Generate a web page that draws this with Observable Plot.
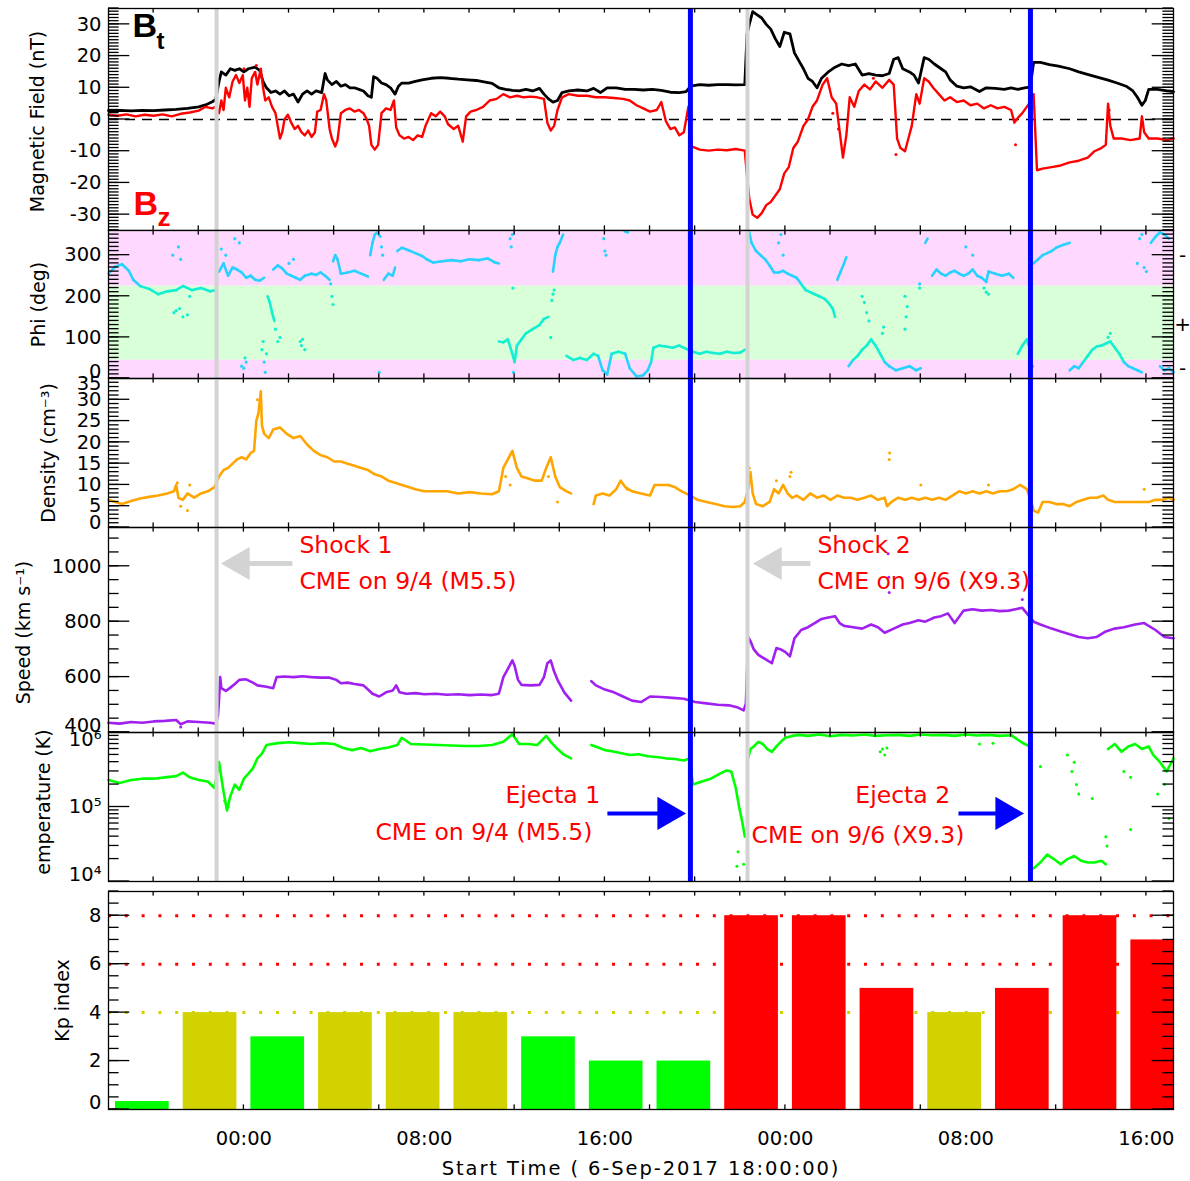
<!DOCTYPE html>
<html><head><meta charset="utf-8">
<script src="https://cdn.jsdelivr.net/npm/d3@7"></script>
<script src="https://cdn.jsdelivr.net/npm/@observablehq/plot@0.6"></script>
<style>
body{margin:0;background:#fff;}
#chart{position:relative;width:1190px;height:1181px;background:#fff;}
#chart svg{position:absolute;left:0;top:0;}
</style></head><body><div id="chart"></div>
<script>
// ---------- time base ----------
const START = Date.UTC(2017, 8, 6, 18, 0, 0);   // 6-Sep-2017 18:00:00 UT
const HOUR = 3600000;
const T = h => new Date(START + h * HOUR);
const X_END_H = 47.2;

// ---------- events (hours after start) ----------
const shockHours = [4.79, 28.32];
const ejectaHours = [25.79, 40.86];

// ---------- tick values & labels ----------
const magTicks = [-30, -20, -10, 0, 10, 20, 30];
const phiTicks = [0, 100, 200, 300];
const denTicks = [0, 5, 10, 15, 20, 25, 30, 35];
const spdTicks = [400, 600, 800, 1000];
const tmpTicks = [1e4, 1e5, 1e6];
const tmpTickLabels = ["10⁴", "10⁵", "10⁶"];
const kpTicks = [0, 2, 4, 6, 8];
const timeTickHours = [6, 14, 22, 30, 38, 46];
const timeTickLabels = ["00:00", "08:00", "16:00", "00:00", "08:00", "16:00"];
const phiSideLabels = [{v: 300, s: "-"}, {v: 130, s: "+"}, {v: 25, s: "-"}];
const phiBands = [{lo: 0, hi: 45, c: "#ffd8ff"}, {lo: 45, hi: 225, c: "#d8ffd8"}, {lo: 225, hi: 360, c: "#ffd8ff"}];

// ---------- Kp ----------
const kpValues = [0.33, 4, 3, 4, 4, 4, 3, 2, 2, 8, 8, 5, 4, 5, 8, 7];
const kpLevels = [4, 6, 8];

// ---------- series: [hour, value], null = gap ----------
const bt = [[0,2.8],[0.5,2.9],[1,2.7],[1.5,2.9],[2,2.8],[2.5,3],[3,3.2],[3.5,3.5],[4,4],[4.3,4.6],[4.6,5.6],[4.75,6.3],
[4.9,12],[5.0,15],[5.2,14],[5.4,16],[5.6,15.5],[5.8,16],[6.0,15],[6.2,16],[6.5,16.5],[6.7,15.5],[6.85,12],[7.0,10],[7.2,8.5],[7.4,9],[7.6,8],[7.8,9],[8.0,7.5],[8.2,8],[8.4,5.5],[8.6,8],[8.8,9],[9.0,8],[9.2,9],[9.45,8.5],[9.6,14.5],[9.7,12.5],[9.9,11],[10.1,12],[10.3,10.5],[10.5,11],[10.7,10],[10.9,10],[11.1,9.5],[11.3,9],[11.5,7.5],[11.65,7],[11.75,13.5],[11.9,13],[12.1,11.5],[12.3,11],[12.5,10],[12.7,8],[12.85,10.5],[13.0,11.5],[13.3,11.5],[13.6,12],[13.9,12.5],[14.3,13],[14.7,13.2],[15.1,13],[15.5,12.7],[15.9,12.5],[16.3,12.3],[16.7,11.8],[17.0,11.4],[17.3,10],[17.6,9.5],[17.9,9.2],[18.2,9],[18.5,9.5],[18.8,9],[19.1,9.8],[19.3,8],[19.5,6.5],[19.7,5.5],[19.9,6],[20.1,8.5],[20.4,9],[20.8,9.3],[21.2,9],[21.5,9.8],[21.8,8.5],[22.1,10],[22.5,10],[22.9,9.5],[23.3,9.5],[23.7,9.3],[24.1,9.5],[24.5,9.2],[24.9,8.6],[25.3,8.5],[25.6,8.8],[25.8,10.5],[26.2,11],[26.6,10.8],[27.0,11],[27.4,11],[27.8,10.9],[28.2,11],
[28.3,27],[28.4,30],[28.55,34],[28.75,33],[28.95,32],[29.15,30],[29.35,28.5],[29.55,25.5],[29.75,23],[29.95,27.5],[30.2,27],[30.4,21],[30.6,18.5],[30.8,16],[31.0,13],[31.2,12],[31.4,10],[31.6,13],[31.9,15],[32.2,16.5],[32.5,17.5],[32.8,17],[33.1,17.5],[33.4,14],[33.7,14.5],[34.0,14],[34.3,13.8],[34.6,14.5],[34.8,19],[35.0,19.5],[35.2,16],[35.5,15],[35.7,14],[35.9,11.5],[36.15,19.5],[36.35,19],[36.6,17.5],[36.9,16],[37.1,15],[37.3,12.5],[37.6,10.5],[37.9,10],[38.2,10.3],[38.6,8.8],[38.9,10],[39.3,9.8],[39.7,9.5],[40.0,10],[40.3,9.5],[40.6,10],[40.85,10.2],
[41.0,18],[41.3,18],[41.7,17.3],[42.1,16.8],[42.6,16],[43.0,15],[43.5,14],[43.9,13.2],[44.3,12.4],[44.7,11.5],[45.1,10.5],[45.4,9],[45.6,7],[45.8,4.5],[45.95,6],[46.1,9.5],[46.5,9.5],[46.9,9],[47.2,8.8]];

const bz = [[0,1.5],[0.4,1.2],[0.8,1.6],[1.2,1.0],[1.6,1.5],[2.0,1.2],[2.4,1.6],[2.8,1.0],[3.2,1.8],[3.6,2.2],[4.0,2.8],[4.3,4],[4.6,3.5],[4.75,4],
[4.9,2],[5.0,6],[5.1,3],[5.2,10],[5.35,7],[5.5,12],[5.65,14],[5.8,11.5],[5.95,14],[6.05,6],[6.15,10],[6.25,4],[6.35,13],[6.5,15],[6.6,11],[6.75,16],[6.85,10],[6.95,6],[7.1,7],[7.25,4],[7.4,2],[7.5,-2],[7.6,-6],[7.7,-4],[7.8,0],[7.95,1.5],[8.1,-1],[8.25,-3],[8.4,-2],[8.55,-4],[8.7,-5],[8.85,-3.5],[9.0,-5.5],[9.15,-4],[9.25,2.5],[9.4,3],[9.55,8],[9.65,6],[9.8,-3],[9.9,-6],[10.05,-8.5],[10.15,-6.5],[10.3,2],[10.5,3],[10.7,3.5],[10.9,2.5],[11.1,3],[11.3,2],[11.45,0],[11.55,-2],[11.65,-8],[11.8,-9.5],[11.95,-8],[12.1,2],[12.3,3.5],[12.5,3],[12.65,6],[12.75,-2.5],[12.9,-5],[13.1,-6],[13.3,-5.5],[13.5,-6.5],[13.7,-5],[13.9,-5.5],[14.05,-2],[14.3,2],[14.5,1],[14.7,2.5],[14.9,1],[15.05,-1.5],[15.3,-3],[15.5,-2],[15.7,-7],[15.85,1],[16.05,2.5],[16.3,3],[16.6,4],[16.9,6],[17.2,6.5],[17.5,8],[17.8,7],[18.1,7.5],[18.4,7],[18.7,7.2],[19.0,7],[19.3,6.5],[19.45,-1],[19.6,-3.5],[19.75,-2],[19.9,3],[20.1,7],[20.4,8],[20.8,7.5],[21.2,7.5],[21.6,7],[22.0,7],[22.4,6.8],[22.8,6.5],[23.1,6],[23.4,4.5],[23.7,3.5],[24.0,2.5],[24.3,3],[24.5,5.5],[24.7,-0.5],[24.9,-3],[25.1,-2.5],[25.3,-5],[25.5,-4],[25.7,4],[25.85,-8.5],[26.2,-9.5],[26.6,-9.8],[27.0,-9.5],[27.4,-9.7],[27.8,-9.3],[28.2,-9.8],
[28.3,-18],[28.4,-25],[28.55,-30],[28.75,-31],[28.95,-29.5],[29.15,-27],[29.35,-26],[29.55,-24],[29.75,-22],[29.95,-17],[30.15,-15],[30.35,-9],[30.55,-7],[30.8,-2],[31.0,0],[31.2,4],[31.4,6],[31.65,11],[31.85,13],[32.05,7],[32.25,5],[32.55,-12],[32.7,-5],[32.85,7],[33.05,4],[33.25,9],[33.5,11],[33.75,9.5],[34.0,12],[34.3,10],[34.6,12.5],[34.8,11],[34.95,-6],[35.1,-9],[35.3,-10],[35.45,-6],[35.6,-2],[35.8,8],[35.95,5],[36.15,13],[36.35,12],[36.55,10],[36.8,8],[37.05,6],[37.3,7],[37.6,5.5],[37.9,6],[38.2,4.5],[38.5,5],[38.8,3.5],[39.1,4.5],[39.4,3.5],[39.7,4],[40.0,3],[40.15,-1],[40.3,0.5],[40.5,2],[40.8,5],
[41.0,8],[41.15,-16],[41.4,-15.5],[41.8,-15],[42.2,-14.5],[42.6,-13.5],[43.0,-13],[43.4,-12],[43.7,-10],[44.0,-9],[44.2,-8],[44.3,5],[44.4,-2],[44.55,-6],[44.9,-6],[45.3,-6.5],[45.7,-6],[45.8,1],[45.9,-4],[46.1,-6],[46.5,-6],[46.9,-6.5],[47.2,-6]];
const bzScatter = [[6.0,16],[6.55,17],[6.2,8],[32.35,-3],[32.1,2],[33.9,13],[34.9,-11],[40.2,-8],[44.35,3]];

const phi = [[0,255],[0.3,272],[0.6,278],[0.9,262],[1.1,240],[1.4,225],[1.8,218],[2.2,205],[2.6,212],[3.0,215],[3.3,225],[3.7,215],[4.1,220],[4.5,212],[4.75,215], null,
[4.9,260],[5.1,280],[5.3,250],[5.5,270],[5.7,265],[5.9,258],[6.1,245],[6.3,250],[6.5,240],[6.7,238],[6.9,245], null,
[7.05,200],[7.15,185],[7.25,160],[7.35,140], null,
[7.3,265],[7.5,275],[7.7,268],[7.9,255],[8.1,250],[8.3,245],[8.5,240],[8.7,250],[9.0,255],[9.2,252],[9.4,258],[9.6,250],[9.8,240], null,
[9.95,285],[10.05,300],[10.15,290],[10.3,255],[10.6,258],[10.9,262],[11.2,255],[11.5,248], null,
[11.6,300],[11.7,330],[11.8,350],[11.9,355],[12.05,345], null,
[12.2,240],[12.4,255],[12.6,250],[12.7,270], null,
[12.8,310],[13.0,318],[13.3,312],[13.6,305],[13.9,298],[14.1,290],[14.4,282],[14.8,285],[15.2,288],[15.6,285],[16.0,290],[16.4,288],[16.8,292],[17.1,283],[17.3,280], null,
[17.3,90],[17.5,88],[17.7,95],[17.9,60],[18.0,40],[18.1,80],[18.3,95],[18.5,110],[18.8,120],[19.1,130],[19.3,145],[19.5,150], null,
[19.7,260],[19.8,300],[19.9,320],[20.0,330],[20.15,350], null,
[20.3,55],[20.6,45],[20.9,50],[21.2,45],[21.5,60],[21.7,55],[21.9,20],[22.1,10],[22.3,60],[22.6,65],[22.9,60],[23.1,25],[23.4,5],[23.7,8],[23.9,20],[24.05,40],[24.15,75],[24.4,80],[24.7,78],[25.0,75],[25.3,80],[25.6,72],[25.9,65],[26.2,60],[26.5,65],[26.8,62],[27.1,60],[27.4,65],[27.7,62],[28.0,63],[28.2,70], null,
[28.3,345],[28.4,355],[28.5,330],[28.7,310],[28.9,300],[29.1,290],[29.3,275],[29.5,258],[29.7,258],[29.9,262],[30.1,255],[30.3,250],[30.5,245],[30.7,230],[30.9,215],[31.1,210],[31.3,205],[31.5,200],[31.7,195],[31.9,185],[32.1,170],[32.2,150], null,
[32.3,240],[32.45,260],[32.6,280],[32.7,295], null,
[32.8,30],[33.0,45],[33.2,55],[33.4,70],[33.6,80],[33.8,95],[34.0,80],[34.2,60],[34.4,40],[34.6,30],[34.9,20],[35.2,25],[35.5,30],[35.8,20],[36.0,25], null,
[36.2,330],[36.3,340], null,
[36.5,250],[36.7,265],[36.9,255],[37.1,250],[37.3,258],[37.5,262],[37.7,255],[37.9,250],[38.1,255],[38.3,265],[38.5,250],[38.7,245],[38.9,235],[39.0,260],[39.3,255],[39.6,250],[39.9,255],[40.1,245], null,
[40.3,60],[40.5,80],[40.7,95],[40.85,70], null,
[41.0,280],[41.2,290],[41.4,300],[41.6,305],[41.8,310],[42.0,318],[42.3,325],[42.6,330], null,
[42.6,20],[42.8,30],[43.0,25],[43.2,40],[43.4,55],[43.6,70],[43.8,78],[44.0,80],[44.2,85],[44.4,90],[44.6,75],[44.8,60],[45.0,40],[45.2,30],[45.4,25],[45.6,20],[45.8,15], null,
[46.2,330],[46.4,345],[46.6,355],[46.8,350],[47.0,340], null,
[46.6,30],[46.8,20],[47.0,25],[47.2,15]];
const phiScatter = [[2.85,300],[2.9,160],[3.0,165],[3.1,320],[3.15,170],[3.2,290],[3.3,150],[3.5,155],[3.6,200],[5.0,315],[5.2,300],[5.6,340],[5.8,330],[5.9,30],[6.0,25],[6.05,50],[6.1,40],[6.8,70],[6.85,90],[6.9,40],[6.95,15],[7.0,60],[7.4,120],[7.5,90],[7.6,100],[8.0,280],[8.2,290],[8.5,90],[8.55,80],[8.6,95],[8.7,70],[9.85,230],[9.9,200],[9.95,180],[12.0,15],[12.1,320],[12.15,300],[17.8,340],[17.85,320],[17.9,350],[17.92,220],[17.95,15],[19.6,100],[19.65,190],[19.7,205],[19.75,215],[21.95,340],[22.0,310],[22.05,300],[22.9,358],[23.0,356],[29.7,330],[29.8,350],[29.9,300],[33.4,200],[33.5,185],[33.6,160],[33.7,140],[34.3,110],[34.35,125],[35.3,120],[35.35,150],[35.4,175],[35.3,200],[35.95,220],[35.95,230],[38.0,320],[38.3,300],[38.8,220],[38.9,210],[39.0,205],[40.9,20],[40.95,30],[44.3,100],[44.4,110],[45.6,280],[45.7,340],[45.8,350],[45.9,270],[46.0,260]];

const den = [[0,6.5],[0.3,6],[0.6,5.5],[1.0,6.2],[1.4,6.8],[1.8,7.2],[2.2,7.5],[2.6,8],[2.9,8.5],[3.0,10],[3.1,7],[3.3,6.5],[3.5,8],[3.8,7],[4.1,8],[4.4,8.5],[4.7,9.5],[4.9,12],[5.1,13.5],[5.3,14],[5.5,15],[5.7,16],[5.9,16.5],[6.1,16],[6.3,17.5],[6.45,18],[6.55,25],[6.65,27],[6.75,32],[6.8,24],[6.9,22],[7.1,21],[7.3,23],[7.6,23.5],[7.9,22],[8.2,21],[8.5,21.5],[8.8,19.5],[9.1,18],[9.4,17],[9.7,16.5],[10.0,15.5],[10.3,15.5],[10.6,15],[10.9,14.5],[11.2,14],[11.5,13.5],[11.8,12.5],[12.1,12],[12.4,11],[12.7,10.5],[13.0,10],[13.3,9.5],[13.6,9],[14.0,8.5],[14.5,8.5],[15.0,8.5],[15.5,8],[16.0,8.3],[16.5,8],[17.0,7.8],[17.3,8.5],[17.5,14],[17.7,16],[17.9,18],[18.1,14],[18.3,12],[18.6,11.5],[18.9,11],[19.2,11],[19.4,14],[19.6,16.5],[19.8,12],[20.0,9.5],[20.3,8.5],[20.5,8], null,
[21.5,5.5],[21.6,7.5],[21.9,8],[22.2,7.5],[22.5,9],[22.7,11],[22.9,9.5],[23.2,8.5],[23.6,8],[24.0,7.5],[24.2,10],[24.5,10],[24.8,10],[25.1,9.5],[25.4,8.5],[25.8,7.5],[26.1,6.5],[26.5,6],[26.9,5.5],[27.3,5],[27.7,4.8],[28.0,5],[28.2,6],[28.35,9],[28.45,13],[28.55,8],[28.7,5.5],[29.0,5],[29.3,6],[29.5,9],[29.7,8],[29.9,10],[30.1,8],[30.3,7],[30.5,7.5],[30.8,6.5],[31.1,8],[31.4,7],[31.7,7.5],[32.0,6.5],[32.3,7.5],[32.6,7],[32.9,7],[33.2,6.5],[33.5,7],[33.8,7.5],[34.1,6.5],[34.4,7],[34.5,5],[34.7,6],[35.0,7],[35.3,6.5],[35.6,7],[35.9,6.5],[36.2,7],[36.5,6.5],[36.8,7],[37.1,6.5],[37.4,7.5],[37.7,8.5],[38.0,8],[38.3,8.5],[38.6,8],[38.9,8.5],[39.2,8],[39.5,8.5],[39.8,8.5],[40.1,9],[40.4,10],[40.7,9],[40.9,6],[41.0,4],[41.2,3.5],[41.4,6],[41.7,6],[42.0,5.5],[42.3,5.5],[42.6,5],[42.9,6],[43.2,6.5],[43.5,7],[43.8,7],[44.1,7.5],[44.3,6.5],[44.6,6],[44.9,6],[45.2,6],[45.5,6],[45.8,6],[46.1,6],[46.4,6.5],[46.7,6.5],[47.0,7],[47.2,6.5]];
const denScatter = [[3.05,10.5],[3.2,5],[3.5,4],[3.6,10],[6.6,30],[6.7,28],[17.6,12],[17.8,10],[19.5,12],[19.9,6],[23.0,9],[28.4,14],[29.6,11],[30.2,12],[30.25,13],[34.6,16],[34.62,17.5],[36.0,10],[39.0,10],[45.9,9]];

const spd = [[0,435],[0.5,432],[1.0,438],[1.5,435],[2.0,440],[2.5,442],[3.0,445],[3.2,430],[3.5,440],[4.0,438],[4.5,435],[4.75,432],[4.85,460],[4.9,520],[4.95,600],[5.0,560],[5.2,550],[5.4,562],[5.6,575],[5.8,590],[6.1,592],[6.4,580],[6.6,570],[7.0,565],[7.3,560],[7.45,600],[7.8,602],[8.2,600],[8.6,603],[9.0,600],[9.4,598],[9.8,598],[10.1,590],[10.3,578],[10.6,580],[10.9,575],[11.3,570],[11.5,555],[11.7,540],[12.0,530],[12.3,545],[12.6,552],[12.75,570],[12.9,545],[13.2,540],[13.6,542],[14.0,538],[14.5,540],[15.0,536],[15.5,538],[16.0,535],[16.5,537],[17.0,535],[17.3,540],[17.5,600],[17.7,630],[17.9,660],[18.0,640],[18.15,590],[18.3,572],[18.7,570],[19.1,572],[19.3,600],[19.45,650],[19.6,660],[19.75,620],[19.9,590],[20.2,545],[20.5,515], null,
[21.4,585],[21.6,570],[22.0,555],[22.4,545],[22.8,530],[23.2,515],[23.6,510],[24.0,530],[24.5,528],[25.0,525],[25.5,522],[26.0,510],[26.5,505],[27.0,500],[27.5,498],[27.9,490],[28.15,480],[28.25,505],
[28.35,745],[28.45,730],[28.6,700],[28.8,680],[29.0,670],[29.2,660],[29.4,650],[29.6,705],[29.8,700],[30.0,690],[30.2,675],[30.4,740],[30.7,770],[31.0,780],[31.3,795],[31.6,810],[31.9,815],[32.2,820],[32.4,795],[32.6,785],[33.0,780],[33.4,775],[33.8,790],[34.1,780],[34.4,760],[34.8,775],[35.2,790],[35.5,795],[35.9,805],[36.2,800],[36.6,815],[36.9,820],[37.2,830],[37.5,795],[37.9,840],[38.3,845],[38.7,840],[39.1,842],[39.5,838],[39.9,840],[40.2,845],[40.5,850],[40.8,820],[41.0,800],[41.3,790],[41.8,775],[42.2,765],[42.6,755],[43.0,745],[43.4,740],[43.8,745],[44.2,765],[44.6,775],[45.0,780],[45.5,790],[45.9,795],[46.4,770],[46.8,745],[47.2,740]];
const spdScatter = [[3.2,420],[34.55,1045],[34.58,960],[34.6,905],[40.5,880]];

const tmp = [[0,2.3e5],[0.5,2.1e5],[1.0,2.3e5],[1.5,2.4e5],[2.0,2.4e5],[2.5,2.5e5],[3.0,2.6e5],[3.3,2.9e5],[3.6,2.5e5],[4.0,2.3e5],[4.4,2.2e5],[4.7,1.8e5],[4.9,4e5],[5.0,2.5e5],[5.1,1.6e5],[5.25,9e4],[5.4,1.4e5],[5.6,2e5],[5.8,1.7e5],[6.0,2.4e5],[6.2,2.8e5],[6.4,3.3e5],[6.6,4.5e5],[6.8,5.2e5],[7.0,6.8e5],[7.5,7.2e5],[8.0,7.4e5],[8.5,7.2e5],[9.0,7e5],[9.5,7.2e5],[10.0,7e5],[10.4,6.2e5],[10.8,5.8e5],[11.2,6.2e5],[11.6,5.6e5],[12.0,6e5],[12.4,6.3e5],[12.8,6.8e5],[13.0,8.5e5],[13.4,7e5],[14.0,6.9e5],[14.6,6.8e5],[15.2,6.7e5],[15.8,6.6e5],[16.4,6.6e5],[17.0,6.8e5],[17.5,7.5e5],[17.9,9.5e5],[18.2,7e5],[18.6,7e5],[19.0,6.8e5],[19.4,9e5],[19.6,7.5e5],[19.9,6e5],[20.2,5e5],[20.5,4.5e5], null,
[21.4,6.8e5],[21.7,6.3e5],[22.0,5.8e5],[22.3,5.6e5],[22.7,5.3e5],[23.1,5.0e5],[23.5,5.1e5],[23.9,4.8e5],[24.3,4.7e5],[24.7,4.5e5],[25.1,4.4e5],[25.5,4.2e5],[25.75,4.5e5],[25.9,2.0e5],[26.3,2.2e5],[26.7,2.4e5],[27.1,2.8e5],[27.4,3.1e5],[27.6,3.0e5],[27.8,1.8e5],[27.95,1.0e5],[28.1,6e4],[28.2,4e4], null,
[28.35,4.5e5],[28.45,6e5],[28.6,6.5e5],[28.8,7.5e5],[29.0,7e5],[29.2,6e5],[29.4,5.5e5],[29.6,6.5e5],[29.8,7.5e5],[30.0,8.5e5],[30.3,9e5],[30.6,9.3e5],[31.0,9e5],[31.5,9.4e5],[32.0,8.9e5],[32.5,9.3e5],[33.0,9.1e5],[33.5,9.4e5],[34.0,9e5],[34.5,9.2e5],[35.0,9.3e5],[35.5,9e5],[36.0,9.4e5],[36.5,9.2e5],[37.0,9.3e5],[37.5,9e5],[38.0,9.4e5],[38.5,9.1e5],[39.0,9.3e5],[39.5,9e5],[40.0,9.2e5],[40.3,8e5],[40.6,7e5],[40.85,6.5e5], null,
[41.0,1.5e4],[41.3,1.8e4],[41.6,2.3e4],[41.9,2e4],[42.2,1.7e4],[42.5,2e4],[42.8,2.2e4],[43.1,1.9e4],[43.4,1.8e4],[43.7,1.8e4],[44.0,1.9e4],[44.2,1.7e4], null,
[44.3,6e5],[44.6,7e5],[44.9,5.5e5],[45.2,6.5e5],[45.5,7e5],[45.8,6e5],[46.1,6.5e5],[46.3,5e5],[46.6,4e5],[46.9,3e5],[47.2,4.5e5]];
const tmpScatter = [[5.15,1.2e5],[5.3,1e5],[27.85,1.6e4],[27.9,2.5e4],[28.15,1.7e4],[34.2,5.5e5],[34.3,6e5],[34.4,5e5],[34.5,6.2e5],[38.6,7e5],[39.2,7.2e5],[41.3,3.5e5],[42.5,5e5],[42.7,3e5],[42.8,4e5],[42.9,2e5],[43.0,1.5e5],[43.6,1.3e5],[44.2,4e4],[44.25,3e4],[45.0,3e5],[45.3,2.5e5],[45.3,5e4],[46.5,1.5e5],[46.8,2e5],[47.0,7e4]];

// ---------- annotations (hour, value) ----------
const spdNotes = [{h: 8.46, v: 1075, s: "Shock 1"}, {h: 8.46, v: 945, s: "CME on 9/4 (M5.5)"},
                  {h: 31.42, v: 1075, s: "Shock 2"}, {h: 31.42, v: 945, s: "CME on 9/6 (X9.3)"}];
const tmpNotes = [{h: 17.59, v: 1.43e5, s: "Ejecta 1"}, {h: 11.83, v: 4.55e4, s: "CME on 9/4 (M5.5)"},
                  {h: 33.1, v: 1.43e5, s: "Ejecta 2"}, {h: 28.5, v: 4.14e4, s: "CME on 9/6 (X9.3)"}];
const grayArrows = [{h1: 8.15, h2: 5.95, tip: 5.83, v: 1010}, {h1: 31.11, h2: 29.5, tip: 29.41, v: 1010}];
const blueArrows = [{h1: 22.11, h2: 24.7, tip: 24.75, v: 8.2e4}, {h1: 37.67, h2: 39.7, tip: 39.73, v: 8.2e4}];

// ---------- layout ----------
const W = 1190, H = 1181, ML = 108, MR = 17, PW = W - ML - MR;
const PXH = PW / X_END_H;  // pixels per hour
const P = {mag: [8, 230], phi: [230, 378], den: [378, 527], spd: [527, 732], tmp: [732, 881], kp: [891, 1109]};
const FONT = "DejaVu Sans";
const GRAY = "#d3d3d3", BLUE = "#0000ff", RED = "#ff0000";

const rows = arr => arr.map(d => d ? {t: T(d[0]), v: d[1]} : {t: T(0), v: NaN});
const evenHours = d3.range(2, 47, 2);
const hAt = px => px / PXH;

const frame = () => Plot.frame({stroke: "black", strokeWidth: 1.3});
function yLabels(vals, ydom, labels, endShift = 7) {
  const lab = (d) => labels ? labels[vals.indexOf(d)] : String(d);
  const base = {y: d => d, text: lab, frameAnchor: "left", dx: -7, textAnchor: "end", lineAnchor: "middle", fontSize: 19.5, fontFamily: FONT, fill: "black"};
  return [
    Plot.text(vals.filter(v => v !== ydom[0] && v !== ydom[1]), base),
    Plot.text(vals.filter(v => v === ydom[0]), {...base, dy: -endShift}),
    Plot.text(vals.filter(v => v === ydom[1]), {...base, dy: endShift})
  ];
}
const yTitle = (title, xc, dy = 0) => Plot.text([title], {text: d => d, frameAnchor: "left", dx: xc - ML, dy,
  rotate: -90, textAnchor: "middle", lineAnchor: "middle", fontSize: 19, fontFamily: FONT, fill: "black"});
const events = () => [
  Plot.ruleX(shockHours.map(T), {x: d => d, stroke: GRAY, strokeWidth: 4}),
  Plot.ruleX(ejectaHours.map(T), {x: d => d, stroke: BLUE, strokeWidth: 5})
];

// inward IDL-style ticks drawn as thin filled rects (value ± half a pixel)
function tickRects(key, y, yMajor, yMinor, xBottom = evenHours, xTop = evenHours) {
  const [top, bottom] = P[key]; const ph = bottom - top;
  const ydom = y.domain, isLog = y.type === "log";
  const yAt = px => isLog ? ydom[0] * Math.pow(ydom[1] / ydom[0], px / ph) : ydom[0] + (ydom[1] - ydom[0]) * px / ph;
  const yShift = (v, px) => isLog ? v * Math.pow(ydom[1] / ydom[0], px / ph) : v + (ydom[1] - ydom[0]) * px / ph;
  const half = 0.65;
  const r = [];
  for (const [vals, len] of [[yMinor, 10.6], [yMajor, 21.3]]) {
    for (const v of vals) {
      r.push({a: T(0), b: T(hAt(len)), c: yShift(v, -half), d: yShift(v, half)});
      r.push({a: T(X_END_H - hAt(len)), b: T(X_END_H), c: yShift(v, -half), d: yShift(v, half)});
    }
  }
  for (const h of xBottom) r.push({a: T(h - hAt(half)), b: T(h + hAt(half)), c: ydom[0], d: yAt(4.6)});
  for (const h of xTop) r.push({a: T(h - hAt(half)), b: T(h + hAt(half)), c: yAt(ph - 4.6), d: ydom[1]});
  return Plot.rect(r, {x1: "a", x2: "b", y1: "c", y2: "d", fill: "black"});
}

function panel(key, y, marks, ticks) {
  const [top, bottom] = P[key];
  let extra = [];
  try { extra = [tickRects(key, y, ...ticks)]; } catch (e) { extra = []; }
  return Plot.plot({
    width: W, height: H, marginLeft: ML, marginRight: MR, marginTop: top, marginBottom: H - bottom,
    x: {type: "utc", domain: [T(0), T(X_END_H)], axis: null},
    y: {...y, axis: null},
    color: {type: "identity"},
    style: {background: "transparent"},
    marks: [...marks, ...extra]
  });
}

const chart = document.getElementById("chart");

// ---- Magnetic field ----
const magY = {domain: [-35, 35]};
chart.append(panel("mag", magY, [
  Plot.ruleY([0], {y: d => d, stroke: "black", strokeWidth: 1.3, strokeDasharray: "10,7"}),
  Plot.line(rows(bt), {x: "t", y: "v", stroke: "black", strokeWidth: 2.8}),
  Plot.line(rows(bz), {x: "t", y: "v", stroke: RED, strokeWidth: 2.4}),
  Plot.dot(rows(bzScatter), {x: "t", y: "v", fill: RED, r: 1.5}),
  ...events(),
  frame(),
  ...yLabels(magTicks, magY.domain),
  yTitle("Magnetic Field (nT)", 37, 2),
  Plot.text(["B"], {text: d => d, frameAnchor: "top-left", dx: 24, dy: 17.5, textAnchor: "start", lineAnchor: "middle", fontSize: 34, fontWeight: "bold", fontFamily: "Liberation Sans", fill: "black"}),
  Plot.text(["t"], {text: d => d, frameAnchor: "top-left", dx: 48, dy: 33, textAnchor: "start", lineAnchor: "middle", fontSize: 24, fontWeight: "bold", fontFamily: "Liberation Sans", fill: "black"}),
  Plot.text(["B"], {text: d => d, frameAnchor: "bottom-left", dx: 25, dy: -26, textAnchor: "start", lineAnchor: "middle", fontSize: 34, fontWeight: "bold", fontFamily: "Liberation Sans", fill: RED}),
  Plot.text(["z"], {text: d => d, frameAnchor: "bottom-left", dx: 49, dy: -13, textAnchor: "start", lineAnchor: "middle", fontSize: 26, fontWeight: "bold", fontFamily: "Liberation Sans", fill: RED})
], [magTicks, d3.range(-35, 36, 1)]));

// ---- Phi ----
const phiY = {domain: [0, 360]};
const phiColor = v => (v >= 45 && v <= 225) ? "#14efd2" : "#27d2ff";
const phiLinks = [];
for (let i = 1; i < phi.length; i++) {
  const a = phi[i - 1], b = phi[i];
  if (a && b) phiLinks.push({t1: T(a[0]), v1: a[1], t2: T(b[0]), v2: b[1], m: (a[1] + b[1]) / 2});
}
chart.append(panel("phi", phiY, [
  Plot.rect(phiBands, {x1: () => T(0), x2: () => T(X_END_H), y1: "lo", y2: "hi", fill: "c"}),
  Plot.link(phiLinks, {x1: "t1", y1: "v1", x2: "t2", y2: "v2", stroke: d => phiColor(d.m), strokeWidth: 2.6, strokeLinecap: "round"}),
  Plot.dot(rows(phiScatter), {x: "t", y: "v", fill: d => phiColor(d.v), r: 1.6}),
  ...events(),
  frame(),
  ...yLabels(phiTicks, phiY.domain),
  yTitle("Phi (deg)", 38),
  Plot.text(phiSideLabels, {y: "v", text: "s", frameAnchor: "right", dx: 9, textAnchor: "middle", lineAnchor: "middle", fontSize: 20, fontFamily: FONT, fill: "black"})
], [phiTicks, d3.range(0, 361, 10)]));

// ---- Density ----
const denY = {domain: [0, 35]};
chart.append(panel("den", denY, [
  Plot.line(rows(den), {x: "t", y: "v", stroke: "#ffa500", strokeWidth: 2.6}),
  Plot.dot(rows(denScatter), {x: "t", y: "v", fill: "#ffa500", r: 1.5}),
  ...events(),
  frame(),
  ...yLabels(denTicks, denY.domain, null, 5),
  yTitle("Density (cm⁻³)", 48)
], [denTicks, d3.range(0, 36, 1)]));

// ---- Speed ----
const spdY = {domain: [400, 1140]};
chart.append(panel("spd", spdY, [
  Plot.line(rows(spd), {x: "t", y: "v", stroke: "#a020f0", strokeWidth: 2.6}),
  Plot.dot(rows(spdScatter), {x: "t", y: "v", fill: "#a020f0", r: 1.5}),
  ...events(),
  Plot.link(grayArrows, {x1: d => T(d.h1), x2: d => T(d.h2), y1: "v", y2: "v", stroke: GRAY, strokeWidth: 5}),
  Plot.dot(grayArrows, {x: d => T(d.tip), y: "v", symbol: "triangle", r: 12.3, fill: GRAY, rotate: -90}),
  Plot.text(spdNotes, {x: d => T(d.h), y: "v", text: "s", textAnchor: "start", lineAnchor: "middle", fontSize: 23.5, fontFamily: FONT, fill: RED}),
  frame(),
  ...yLabels(spdTicks, spdY.domain),
  yTitle("Speed (km s⁻¹)", 23, 2.5)
], [spdTicks, d3.range(400, 1141, 50)]));

// ---- Temperature ----
const tmpY = {type: "log", domain: [1e4, 1e6]};
const tmpMinor = [];
for (const dec of [1e4, 1e5]) for (let k = 2; k <= 9; k++) tmpMinor.push(k * dec);
chart.append(panel("tmp", tmpY, [
  Plot.line(rows(tmp), {x: "t", y: "v", stroke: "#00ff00", strokeWidth: 2.6}),
  Plot.dot(rows(tmpScatter), {x: "t", y: "v", fill: "#00ff00", r: 1.5}),
  ...events(),
  Plot.link(blueArrows, {x1: d => T(d.h1), x2: d => T(d.h2), y1: "v", y2: "v", stroke: BLUE, strokeWidth: 4}),
  Plot.dot(blueArrows, {x: d => T(d.tip), y: "v", symbol: "triangle", r: 12.3, fill: BLUE, rotate: 90}),
  Plot.text(tmpNotes, {x: d => T(d.h), y: "v", text: "s", textAnchor: "start", lineAnchor: "middle", fontSize: 23.5, fontFamily: FONT, fill: RED}),
  frame(),
  ...yLabels(tmpTicks, tmpY.domain, tmpTickLabels),
  yTitle("emperature (K)", 43, -5)
], [tmpTicks, tmpMinor]));

// ---- Kp ----
const kpY = {domain: [0, 9]};
const kpColor = v => v >= 5 ? RED : v >= 4 ? "#d2d200" : "#00ff00";
const kpRows = kpValues.map((v, i) => ({t1: T(3 * i), t2: T(3 * i + 3), v}));
chart.append(panel("kp", kpY, [
  Plot.ruleY(kpLevels, {y: d => d, stroke: d => d === 4 ? "#d2d200" : RED, strokeWidth: 3, strokeDasharray: "3,13.8"}),
  Plot.rectY(kpRows, {x1: "t1", x2: "t2", y: "v", fill: d => kpColor(d.v), insetLeft: 7, insetRight: 7, clip: true}),
  frame(),
  ...yLabels(kpTicks, kpY.domain),
  yTitle("Kp index", 62),
  Plot.text(timeTickHours, {x: d => T(d), text: (d, i) => timeTickLabels[i], frameAnchor: "bottom", dy: 29, textAnchor: "middle", lineAnchor: "middle", fontSize: 19.5, fontFamily: FONT, fill: "black"}),
  Plot.text(["Start Time ( 6-Sep-2017 18:00:00)"], {text: d => d, frameAnchor: "bottom", dy: 59, textAnchor: "middle", lineAnchor: "middle", fontSize: 19.5, fontFamily: FONT, fill: "black"})
], [kpTicks, d3.range(0, 9.01, 0.5), [6, 12, 18, 24, 30, 36, 42], evenHours]));

d3.selectAll("#chart text").filter(function () { return this.textContent.startsWith("Start Time"); })
  .style("letter-spacing", "1.9px");
</script></body></html>
